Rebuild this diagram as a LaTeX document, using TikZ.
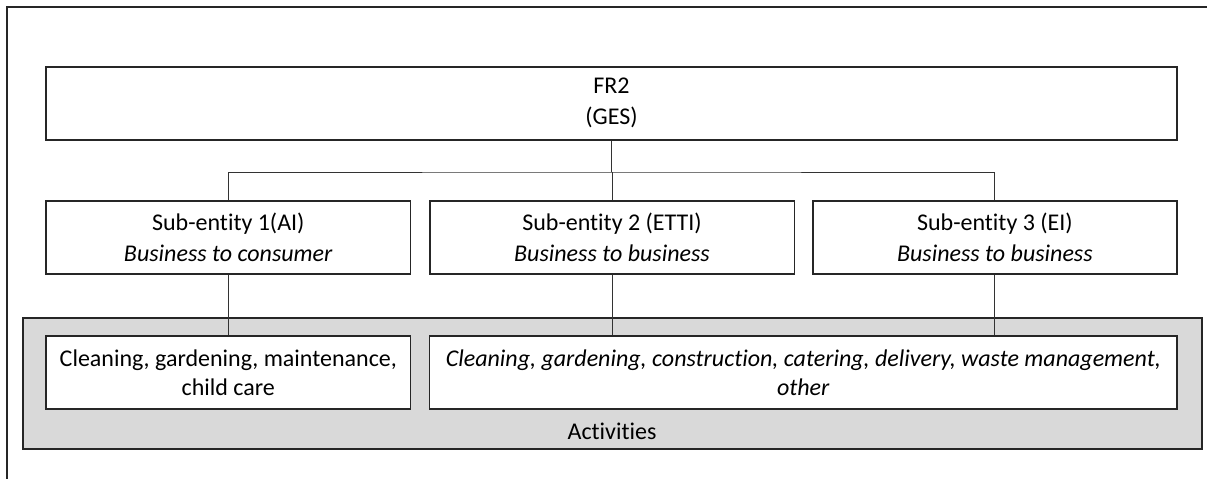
\documentclass[tikz,border=0pt]{standalone}
\usepackage{fontspec}
\setmainfont{Carlito}[Ligatures=NoCommon]
\usetikzlibrary{positioning,calc}

\tikzset{
    unit/.style={draw=black!85,line width=1.6pt,fill=white,inner sep=0pt,align=center,
        minimum height=73pt,font=\fontsize{24}{31}\selectfont,
        execute at begin node={\rule{0pt}{30pt}}},
    actunit/.style={unit,font=\fontsize{24}{29}\selectfont,
        execute at begin node={\rule{0pt}{22pt}}},
    link/.style={draw=black!80,line width=1pt},
}

\begin{document}
\begin{tikzpicture}[x=1pt,y=-1pt]
    \useasboundingbox (0,0) rectangle (1207,479);
    % page frame
    \draw[line width=1.6pt,black!85] (7,479) -- (7,7) -- (1207,7);

    % activities band
    \node[draw=black!85,line width=1.6pt,fill=black!15,minimum width=1179pt,minimum height=131pt] (actband) at (612.2,383.5) {};
    \node[font=\fontsize{24}{29}\selectfont] (actlabel) at (612,431) {Activities};

    % head and sub-entities
    \node[unit,minimum width=1131pt] (fr2) at (611.5,103.3) {FR2\\(GES)};
    \node[unit,minimum width=364.7pt] (sub1) at (228.3,237.3) {Sub-entity 1(AI)\\\textit{Business to consumer}};
    \node[unit,minimum width=364.6pt] (sub2) at (612,237.3) {Sub-entity 2 (ETTI)\\\textit{Business to business}};
    \node[unit,minimum width=364.3pt] (sub3) at (994.9,237.3) {Sub-entity 3 (EI)\\\textit{Business to business}};

    % activity boxes
    \node[actunit,minimum width=364.7pt] (act1) at (228.3,372.3) {Cleaning, gardening, maintenance,\\child care};
    \node[actunit,minimum width=747.3pt] (act2) at (803.3,372.3) {\textit{Cleaning, gardening, construction, catering, delivery, waste management,}\\\textit{other}};

    \coordinate (bus) at (612,172);
    \draw[link,line width=1.6pt] (fr2.south) -- (fr2.south |- bus);
    \draw[link] (sub1.north) |- (bus) -| (sub3.north);
    \draw[link] (bus) -- (sub2.north);
    \draw[link] (sub1.south) -- (act1.north);
    \draw[link] (sub2.south) -- (sub2.south |- act2.north);
    \draw[link] (sub3.south) -- (sub3.south |- act2.north);
\end{tikzpicture}
\end{document}
